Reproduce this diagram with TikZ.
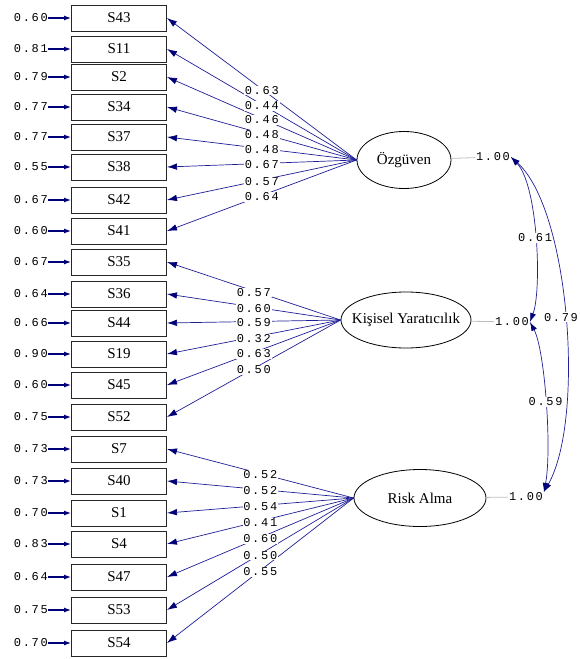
\documentclass[tikz,border=0pt]{standalone}
\usepackage{fontspec}
\setmainfont{Liberation Serif}
\newfontfamily\coeffont[LetterSpace=14]{Liberation Mono}
\usetikzlibrary{arrows.meta}
\usetikzlibrary{shapes.geometric}

\definecolor{pathblue}{RGB}{30,30,150}
\definecolor{arrowblue}{RGB}{0,0,120}
\definecolor{vargray}{RGB}{190,190,190}

\tikzset{
  obs/.style={draw=black!85,line width=1pt,minimum width=95pt,minimum height=26pt,
    inner sep=0pt,font=\fontsize{15}{15}\selectfont},
  latent/.style={ellipse,draw=black,line width=0.8pt,inner sep=0pt,
    font=\fontsize{15}{15}\selectfont},
  coef/.style={fill=white,inner sep=0.8pt,font=\coeffont\fontsize{12}{12}\selectfont},
  errlbl/.style={anchor=east,inner sep=0pt,font=\coeffont\fontsize{12}{12}\selectfont},
  load/.style={draw=pathblue,line width=0.7pt,-{Latex[length=10pt,width=6.5pt,color=arrowblue]}},
  errarr/.style={draw=arrowblue,line width=1.2pt,-{Latex[length=7pt,width=5pt]}},
  cov/.style={draw=pathblue,line width=0.7pt,{Latex[length=9pt,width=6pt,color=arrowblue]}-{Latex[length=9pt,width=6pt,color=arrowblue]}},
  varline/.style={draw=vargray,line width=0.8pt}
}

\begin{document}
\begin{tikzpicture}[x=1pt,y=-1pt]
\useasboundingbox (0,0) rectangle (580,659);

% latent variables
\node[latent,minimum width=94pt,minimum height=57pt] (F1) at (404,160) {\makebox[0pt]{Özgüven}};
\node[latent,minimum width=130pt,minimum height=56pt] (F2) at (406,320) {\makebox[0pt]{Kişisel Yaratıcılık}};
\node[latent,minimum width=132pt,minimum height=57pt] (F3) at (420,498) {\makebox[0pt]{Risk Alma}};

% variances
\node[coef] (v1) at (493,157) {1.00};
\node[coef] (v2) at (512,322) {1.00};
\node[coef] (v3) at (526,497) {1.00};
\draw[varline] (F1) -- (v1);
\draw[varline] (F2) -- (v2);
\draw[varline] (F3) -- (v3);

% indicators: name/y/loading/error/factor
\def\items{S43/18/0.63/0.60/F1, S11/49/0.44/0.81/F1, S2/77/0.46/0.79/F1,
  S34/107/0.48/0.77/F1, S37/137/0.48/0.77/F1, S38/167/0.67/0.55/F1,
  S42/200/0.57/0.67/F1, S41/231/0.64/0.60/F1,
  S35/262/0.57/0.67/F2, S36/294/0.60/0.64/F2, S44/323/0.59/0.66/F2,
  S19/354/0.32/0.90/F2, S45/385/0.63/0.60/F2, S52/417/0.50/0.75/F2,
  S7/449/0.52/0.73/F3, S40/481/0.52/0.73/F3, S1/513/0.54/0.70/F3,
  S4/544/0.41/0.83/F3, S47/577/0.60/0.64/F3, S53/610/0.50/0.75/F3,
  S54/643/0.55/0.70/F3}

\foreach \nm/\yy/\ld/\er/\fc in \items {
  \node[obs] (\nm) at (119,\yy) {\nm};
  \node[errlbl] (e\nm) at (48,\yy) {\er};
  \draw[errarr] (e\nm) -- (\nm);
  \draw[load] (\fc.west) -- coordinate[pos=0.5] (m\nm) (\nm.east);
}
\foreach \nm/\yy/\ld/\er/\fc in \items
  \node[coef,yshift=-1.5pt] (c\nm) at (m\nm) {\ld};

% covariances
\draw[cov] (v1.east) .. controls (538,185) and (542,290) .. node[coef] (r12) {0.61} (v2.east);
\draw[cov] (v2.east) .. controls (545,350) and (552,450) .. node[coef] (r23) {0.59} (v3.north east);
\draw[cov] (v1.east) .. controls (570,210) and (585,420) .. node[coef,xshift=-4pt] (r13) {0.79} (v3.north east);
\end{tikzpicture}
\end{document}
